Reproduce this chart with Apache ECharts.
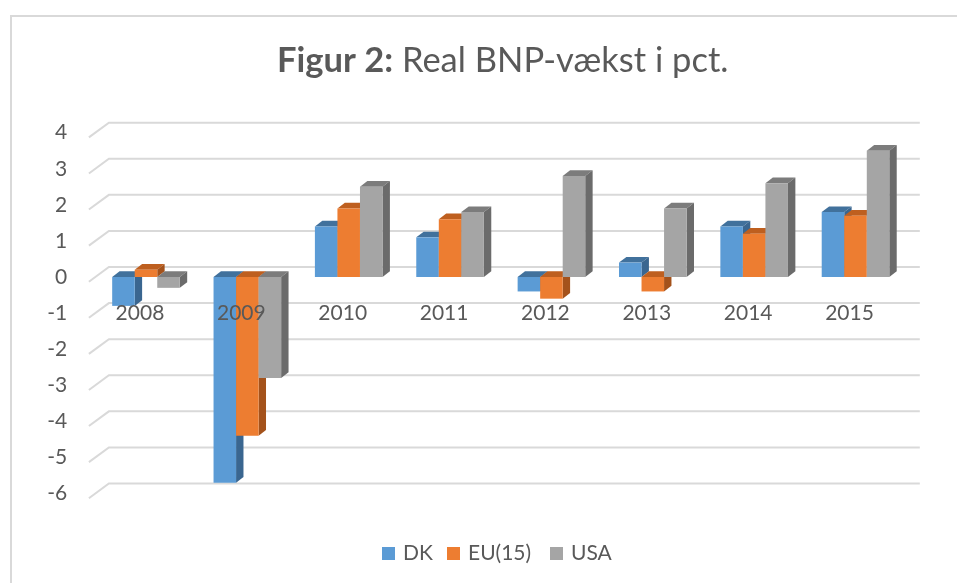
<!DOCTYPE html>
<html>
<head>
<meta charset="utf-8">
<script src="https://cdn.jsdelivr.net/npm/echarts@6/dist/echarts.min.js"></script>
<style>
html,body{margin:0;padding:0;background:#fff;}
#main{width:957px;height:583px;}
</style>
</head>
<body>
<div id="main"></div>
<script>
// ---- data ----
var years = ['2008','2009','2010','2011','2012','2013','2014','2015'];
var seriesNames = ['DK','EU(15)','USA'];
var dkValues  = [-0.8, -5.7, 1.4, 1.1, -0.4, 0.4, 1.4, 1.8];
var euValues  = [ 0.2, -4.4, 1.9, 1.6, -0.6, -0.4, 1.2, 1.7];
var usaValues = [-0.3, -2.8, 2.5, 1.8, 2.8, 1.9, 2.6, 3.5];
var yTicks = [-6,-5,-4,-3,-2,-1,0,1,2,3,4];

// ---- style ----
var FONT = 'Lato';
var TEXT = '#595959';
var GRID_COLOR = '#d9d9d9';
var Y_MIN = -6, Y_MAX = 4;
var GRID_TOP = 132.7, GRID_H = 360.8, GRID_LEFT = 95.3, GRID_W = 810.9;
var CAT_GAP = 0.333;
var DEPTH_X = 7.4, DEPTH_Y = 5.7;          // per-bar depth (px)
var BACK_DX = 13.6, BACK_DY = 10;          // back wall offset from bar plane
var FRONT_DX = -6.4, FRONT_DY = 4.7;       // front edge offset from bar plane
var LEGEND_LEFTS = [382, 447, 550];
var palettes = [
  {front:'#5B9BD5', top:'#41719C', side:'#3A6690'},
  {front:'#ED7D31', top:'#BE5F1F', side:'#A4521B'},
  {front:'#A5A5A5', top:'#7C7C7C', side:'#6B6B6B'}
];

function barSeries(name, values, sIdx) {
  var pal = palettes[sIdx];
  return {
    type: 'custom',
    name: name,
    z: 2,
    data: values.map(function (v, i) { return [i, v]; }),
    encode: {x: 0, y: 1},
    itemStyle: {color: pal.front},
    renderItem: function (params, api) {
      var idx = api.value(0), v = api.value(1);
      var band = api.size([1, 0])[0];
      var groupW = band * (1 - CAT_GAP);
      var barW = groupW / seriesNames.length;
      var c = api.coord([idx, 0]);
      var x0 = c[0] - groupW / 2 + sIdx * barW;
      var yZero = c[1];
      var yVal = api.coord([idx, v])[1];
      var yTop = Math.min(yZero, yVal), yBot = Math.max(yZero, yVal);
      var x1 = x0 + barW;
      return {
        type: 'group',
        children: [
          {type: 'polygon', shape: {points: [[x0, yTop], [x1, yTop], [x1 + DEPTH_X, yTop - DEPTH_Y], [x0 + DEPTH_X, yTop - DEPTH_Y]]},
           style: {fill: pal.top}},
          {type: 'polygon', shape: {points: [[x1, yTop], [x1 + DEPTH_X, yTop - DEPTH_Y], [x1 + DEPTH_X, yBot - DEPTH_Y], [x1, yBot]]},
           style: {fill: pal.side}},
          {type: 'rect', shape: {x: x0, y: yTop, width: barW, height: yBot - yTop},
           style: {fill: pal.front}}
        ]
      };
    }
  };
}

var gridSeries = {
  type: 'custom',
  name: 'grid',
  z: 1,
  silent: true,
  data: yTicks.map(function (t) { return [0, t]; }),
  encode: {x: 0, y: 1},
  renderItem: function (params, api) {
    var cs = params.coordSys;
    var y = api.coord([0, api.value(1)])[1];
    return {
      type: 'polyline',
      shape: {points: [
        [cs.x + FRONT_DX, y + FRONT_DY],
        [cs.x + BACK_DX, y - BACK_DY],
        [cs.x + cs.width + BACK_DX, y - BACK_DY]
      ]},
      style: {stroke: GRID_COLOR, lineWidth: 2, fill: null}
    };
  }
};

var legends = seriesNames.map(function (n, i) {
  return {
    data: [n],
    left: LEGEND_LEFTS[i],
    top: 543,
    icon: 'rect',
    itemWidth: 13,
    itemHeight: 13,
    padding: 0,
    textStyle: {fontFamily: FONT, fontSize: 21, color: TEXT, padding: [0, 0, 0, 3]}
  };
});

var chart = echarts.init(document.getElementById('main'), null, {renderer: 'canvas'});
chart.setOption({
  backgroundColor: '#ffffff',
  animation: false,
  textStyle: {fontFamily: FONT, color: TEXT},
  title: {
    text: '{b|Figur 2:} Real BNP-vækst i pct.',
    left: 277,
    top: 43,
    padding: 0,
    textStyle: {
      fontFamily: FONT, fontSize: 34.5, fontWeight: 'normal', color: TEXT,
      rich: {b: {fontFamily: FONT, fontSize: 34.5, fontWeight: 'bold', color: TEXT}}
    }
  },
  legend: legends,
  grid: {left: GRID_LEFT, top: GRID_TOP, width: GRID_W, height: GRID_H, containLabel: false},
  xAxis: {
    type: 'category',
    data: years,
    z: 10,
    offset: -GRID_H * (0 - Y_MIN) / (Y_MAX - Y_MIN),
    axisLine: {show: false, onZero: false},
    axisTick: {show: false},
    splitLine: {show: false},
    axisLabel: {margin: 26, fontFamily: FONT, fontSize: 21, color: TEXT, padding: [0, 12, 0, 0]}
  },
  yAxis: {
    type: 'value',
    min: Y_MIN, max: Y_MAX, interval: 1,
    axisLine: {show: false},
    axisTick: {show: false},
    splitLine: {show: false},
    axisLabel: {margin: 28, fontFamily: FONT, fontSize: 21, color: TEXT, padding: [9, 0, 0, 0]}
  },
  graphic: [{
    type: 'rect',
    z: -10,
    shape: {x: 11, y: 16, width: 980, height: 620},
    style: {fill: null, stroke: GRID_COLOR, lineWidth: 2}
  }],
  series: [
    gridSeries,
    barSeries(seriesNames[0], dkValues, 0),
    barSeries(seriesNames[1], euValues, 1),
    barSeries(seriesNames[2], usaValues, 2)
  ]
});
</script>
</body>
</html>
